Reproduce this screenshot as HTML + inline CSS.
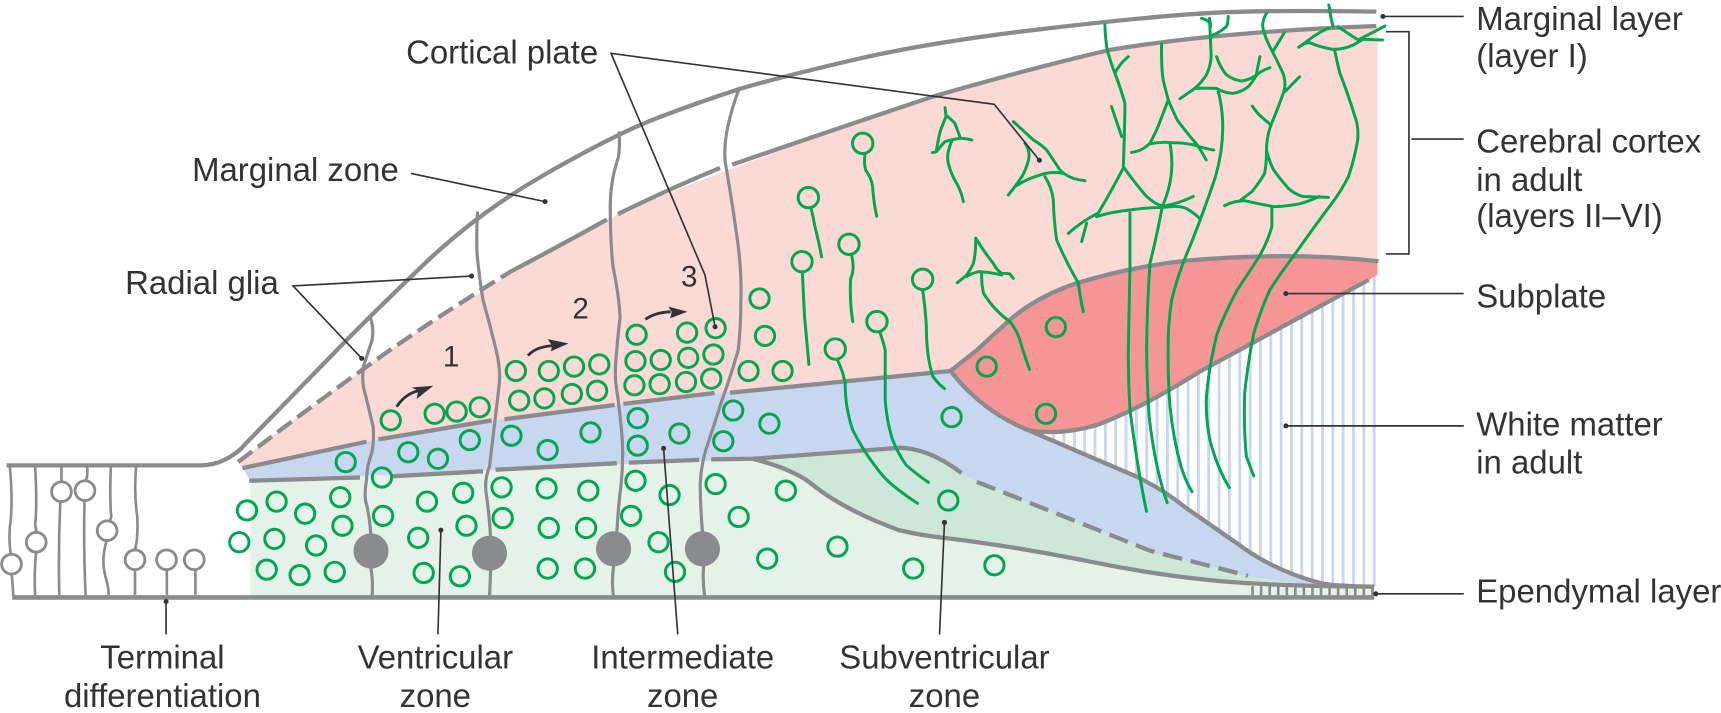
<!DOCTYPE html>
<html><head><meta charset="utf-8"><title>Cortical development</title>
<style>
html,body{margin:0;padding:0;background:#fff}
svg{display:block}
text{font-family:"Liberation Sans",sans-serif;font-size:30px;fill:#333}
.g{fill:none;stroke:#8a8b8d;stroke-width:3.9;stroke-linejoin:round}
.r{fill:none;stroke:#8a8b8d;stroke-width:2.9;stroke-linecap:round}
.t{fill:none;stroke:#8a8b8d;stroke-width:2.4}
.s{fill:#fff;stroke:#8a8b8d;stroke-width:2.6}
.c circle{fill:none;stroke:#00a651;stroke-width:2.7}
.n path{fill:none;stroke:#00a651;stroke-width:2.7;stroke-linecap:round;stroke-linejoin:round}
.l{fill:none;stroke:#333;stroke-width:1.5}
.d circle{fill:#333}
</style></head><body>
<svg width="1721" height="713" viewBox="0 0 1568 649.6" xmlns="http://www.w3.org/2000/svg">
<!-- white matter stripes -->
<path d="M958.7 392H1253.5" stroke="#c6d7ef" stroke-width="284" stroke-dasharray="2.6 6.82" fill="none"/>
<!-- fills -->
<path fill="#e4f2e7" d="M228 438L686 418Q725 428 742 443Q770 465 819 483Q840 488 860 490Q920 497 1000 513Q1050 523 1097 528Q1150 534 1252 534.5V545H228Z"/>
<path fill="#cde8d8" d="M686 418L819 408Q846 408 876 431L890 439L1047.7 501.7L1137 525.4L1204 534Q1150 534 1097 528Q1050 523 1000 513Q920 497 860 490Q840 488 819 483Q770 465 742 443Q725 428 686 418Z"/>
<path fill="#c6d7ef" d="M221 426L345 400L448 383L546.7 370.5L651 358L866 338Q895 375 937 392L1035 434Q1060 446 1081 463L1127 495Q1160 520 1204 531.5L1220 534L1204 534L1137 525.4L1047.7 501.7L890 439L876 431Q846 408 819 408L686 418L228 438Z"/>
<path fill="#fbd9d5" d="M217 421Q290 365 358 317Q460 250 553 200Q640 160 850 88Q940 62 1011 45.5Q1110 29 1255 24V238Q1174 229 1081 237.5Q1030 243 981 258Q945 270 920 291.5L866 338L651 358L546.7 370.5L448 383L345 400L221 426Z"/>
<path fill="#f59597" d="M866 338L890 319Q905 305 920 291.5Q945 270 981 258Q1030 243 1081 237.5Q1174 229 1255 238V250.5L1247 255L1093 338.6Q1040 372 1000 387Q965 397 937 392Q895 375 866 338Z"/>
<!-- structural lines -->
<path class="g" d="M6 424H182Q199 424 213 414Q219 410 223 405L304 322Q337 288 386 241Q435 194 498 158Q562 121.5 600 107Q638 92.6 674 81Q711 70 780 54Q850 38 949 26.5Q1047 15 1100 12Q1147 9 1254 10.6"/>
<path class="g" stroke-dasharray="16 6.5" d="M217 421Q290 365 358 317Q412 280 466 247"/>
<path class="g" d="M466 247Q510 224 553 200M563 195Q610 172 656 153M667 150Q760 118 850 88Q940 62 1011 45.5Q1110 29 1254 23.7"/>
<path class="g" d="M221 426.5L334 402.4M344.7 400.3L448 383M459.6 382L560 369M568 368L651 358M665 357.8L866 338"/>
<path class="g" d="M227 438L328 435M356 434L440 429.4M451.5 428L562 422M573 421.5L637 419M648 418.5L686 418L819 408Q846 408 876 431"/>
<path class="g" stroke-dasharray="18 8" d="M890 439L1047.7 501.7L1137 524.5"/>
<path class="g" d="M686 418Q725 428 742 443Q770 465 819 483Q840 488 860 490Q920 497 1000 513Q1050 523 1097 528Q1150 534 1252 534.5"/>
<path class="g" d="M866 338L890 319Q905 305 920 291.5Q945 270 981 258Q1030 243 1081 237.5Q1174 229 1256 238"/>
<path class="g" d="M866 338Q895 375 937 392Q965 397 1000 387Q1040 372 1093 338.6L1247 255"/>
<path class="g" d="M937 392L1035 434Q1060 446 1081 463L1127 495Q1160 520 1204 531.5Q1215 534 1252 534.5"/>
<path class="g" d="M11 544.3H1252" style="stroke-width:4.2"/>
<path d="M1140 539.5H1252" stroke="#8a8b8d" stroke-width="11" stroke-dasharray="2.4 5.4" fill="none"/>
<!-- radial glia -->
<path class="r" d="M337 288.5Q341 298 339 310Q335 322 331 334Q330 343 331 352Q336 372 340 389Q341 402 338.6 413Q334 425 334 437Q332 447 333 456Q337 470 338 490M338 518Q340 530 339 544"/>
<path class="r" d="M435 194Q434 215 434.6 231Q437 255 440 273Q447 298 452 319Q456 335 455 349Q450 390 446 425Q441 438 443 450Q446 470 447 490M447 521L446 544"/>
<path class="r" d="M564 121Q565 130 563.5 143Q556 165 556 188Q556 220 558.5 243Q564 270 565 289Q563 305 562 319Q560 335 561 349Q565 375 567 401Q568 420 566 440Q563 465 562 485M559 516Q557 530 559 544"/>
<path class="r" d="M673 82Q666 100 662 121Q659 140 661.5 152Q668 190 671 213Q676 245 675 273Q675 298 672.6 319Q666 342 658 364Q652 383 646 401Q639 420 638 440Q638 460 640 485M641 516Q640 528 642 543"/>
<circle cx="338" cy="502" r="16" fill="#8a8b8d"/><circle cx="446" cy="504" r="16" fill="#8a8b8d"/><circle cx="559" cy="500" r="16" fill="#8a8b8d"/><circle cx="640" cy="500" r="16" fill="#8a8b8d"/>
<!-- terminal differentiation -->
<path class="t" d="M9 425Q12 460 9 480Q8 495 10 505M10.5 523Q12 535 12 543M32 425Q34 460 32 478Q33 482 33 485M33 503Q31 520 32 543M56 425V439M55 457Q53 500 54 542M79.5 425Q80 435 78 438M77 456Q76 500 78 542M101 425Q100 450 101 467Q102 472 100 474M97 493Q92 510 96 525Q99 535 99 542M124 425Q122 450 125 470Q126 490 123 501M123 519V542M152 519V542M178 519V542"/>
<circle class="s" cx="10.5" cy="514" r="9"/><circle class="s" cx="33" cy="494" r="9"/><circle class="s" cx="56" cy="448" r="9"/><circle class="s" cx="77.4" cy="447" r="9"/><circle class="s" cx="97.6" cy="483.5" r="9"/><circle class="s" cx="123" cy="510" r="9"/><circle class="s" cx="151.7" cy="510" r="9"/><circle class="s" cx="177" cy="510" r="9"/>
<!-- green cells -->
<g class="c">
<circle cx="356" cy="383" r="8.8"/><circle cx="396" cy="377" r="8.8"/><circle cx="416" cy="375" r="8.8"/><circle cx="437" cy="371" r="8.8"/>
<circle cx="470" cy="338" r="8.8"/><circle cx="500" cy="338" r="8.8"/><circle cx="523" cy="334" r="8.8"/><circle cx="546" cy="332" r="8.8"/>
<circle cx="473" cy="365" r="8.8"/><circle cx="496" cy="363" r="8.8"/><circle cx="521" cy="359" r="8.8"/><circle cx="544" cy="356" r="8.8"/>
<circle cx="580" cy="305" r="8.8"/><circle cx="626" cy="303" r="8.8"/><circle cx="652" cy="299" r="8.8"/>
<circle cx="579" cy="329" r="8.8"/><circle cx="602" cy="328" r="8.8"/><circle cx="627" cy="326" r="8.8"/><circle cx="650" cy="323" r="8.8"/>
<circle cx="578" cy="351" r="8.8"/><circle cx="601" cy="350" r="8.8"/><circle cx="625" cy="348" r="8.8"/><circle cx="648" cy="345" r="8.8"/>
<circle cx="692" cy="272" r="8.8"/><circle cx="697" cy="306" r="8.8"/><circle cx="682" cy="338" r="8.8"/><circle cx="713" cy="338" r="8.8"/>
<circle cx="315" cy="421" r="8.8"/><circle cx="372" cy="412" r="8.8"/><circle cx="399" cy="418" r="8.8"/><circle cx="428" cy="401" r="8.8"/><circle cx="466" cy="397" r="8.8"/><circle cx="499" cy="410" r="8.8"/><circle cx="538" cy="394" r="8.8"/><circle cx="581" cy="381" r="8.8"/><circle cx="581" cy="406" r="8.8"/><circle cx="619" cy="395" r="8.8"/><circle cx="668" cy="374" r="8.8"/><circle cx="659" cy="402" r="8.8"/><circle cx="701" cy="386" r="8.8"/><circle cx="867" cy="380" r="8.8"/>
<circle cx="348" cy="435" r="8.8"/><circle cx="225" cy="465" r="8.8"/><circle cx="252" cy="457" r="8.8"/><circle cx="278" cy="468" r="8.8"/><circle cx="310" cy="453" r="8.8"/><circle cx="312" cy="479" r="8.8"/><circle cx="218" cy="494" r="8.8"/><circle cx="250" cy="491" r="8.8"/><circle cx="288" cy="497" r="8.8"/><circle cx="243" cy="519" r="8.8"/><circle cx="273" cy="524" r="8.8"/><circle cx="305" cy="521" r="8.8"/>
<circle cx="349" cy="470" r="8.8"/><circle cx="389" cy="457" r="8.8"/><circle cx="422" cy="449" r="8.8"/><circle cx="425" cy="479" r="8.8"/><circle cx="381" cy="490" r="8.8"/><circle cx="386" cy="522" r="8.8"/><circle cx="419" cy="525" r="8.8"/><circle cx="457" cy="444" r="8.8"/><circle cx="458" cy="472" r="8.8"/><circle cx="498" cy="445" r="8.8"/><circle cx="500" cy="481" r="8.8"/><circle cx="499" cy="518" r="8.8"/><circle cx="533" cy="518" r="8.8"/><circle cx="534" cy="481" r="8.8"/><circle cx="536" cy="447" r="8.8"/>
<circle cx="579" cy="438" r="8.8"/><circle cx="575" cy="470" r="8.8"/><circle cx="610" cy="451" r="8.8"/><circle cx="652" cy="441" r="8.8"/><circle cx="673" cy="471" r="8.8"/><circle cx="716" cy="447" r="8.8"/><circle cx="600" cy="494" r="8.8"/><circle cx="615" cy="521" r="8.8"/><circle cx="699" cy="509" r="8.8"/><circle cx="763" cy="498" r="8.8"/><circle cx="832" cy="518" r="8.8"/><circle cx="906" cy="515" r="8.8"/><circle cx="864" cy="456" r="8.8"/>
<circle cx="899" cy="334" r="8.8"/><circle cx="953" cy="377" r="8.8"/><circle cx="962" cy="298" r="8.8"/>
<circle cx="786" cy="130.6" r="9.3"/><circle cx="736.5" cy="180" r="9.3"/><circle cx="773.5" cy="222.6" r="9.3"/><circle cx="730.7" cy="238.4" r="9.3"/><circle cx="840.6" cy="254.5" r="9.3"/><circle cx="799" cy="293" r="9.3"/><circle cx="761" cy="318" r="9.3"/>
</g>
<!-- neurons -->
<g class="n">
<path d="M788 141Q787 148 788.7 155Q794 162 795 170Q796 185 798.8 197"/>
<path d="M739 190Q741 198 742.5 206.5Q746 220 748.6 234"/>
<path d="M776 233Q779 245 775 254Q774 275 777 293"/>
<path d="M731 248L733 288.5Q735 310 737 332"/>
<path d="M840.7 265Q843 280 844 297.6Q844 325 850 343Q855 350 860.5 354"/>
<path d="M801.8 303Q805 312 806.5 319V364.5Q808 385 813.4 401Q818 413 825.6 423.7Q835 432 846 439.5"/>
<path d="M763 328Q768 338 770 349Q770 372 777 392Q786 410 797.7 425Q806 437 818.7 446.4Q827 453 836 458.6"/>
<path d="M861 98L862 106Q857 118 856 122Q854 132 853 138Q852 139 849.5 139"/>
<path d="M862 105Q868 110 870 112.4Q873 120 875 126Q880 126 885.3 127.5"/>
<path d="M853.4 138Q858 132 861 129Q867 127 875 126"/>
<path d="M867 129Q862 140 864 149Q867 160 871.6 167Q876 175 877.7 183.7"/>
<path d="M923.3 110.8L941.5 127.5Q949 132 953.6 136.7Q960 146 965.8 155Q971 160 978 162.5Q983 164 988.5 164.6"/>
<path d="M933.9 130.6Q939 138 937 146Q935 154 931 161Q925 170 918.7 177.6"/>
<path d="M924.8 170Q935 163 950.6 158.5Q960 156 968.8 158"/>
<path d="M952 161Q958 170 959.7 182Q960 200 962.7 218.6Q971 238 982.5 258Q984 270 987 284"/>
<path d="M889 217Q889 232 886.8 240Q884 246 880.7 250.5Q877 254 872.2 257.5"/>
<path d="M889 217Q897 230 905 240Q908 246 912.6 249Q918 249 920 249.6L923.3 253.6"/>
<path d="M880.7 252Q885 249 891.4 247.5Q902 248 912.6 250.5"/>
<path d="M894.4 249Q894 258 896 267Q905 282 920 293Q926 300 929.3 310Q932 320 938 336.5"/>
<path d="M1006.7 22.8Q1007 35 1008.8 45.5Q1012 57 1015.8 66.8Q1021 80 1024.9 94Q1025 105 1023.5 152"/>
<path d="M1028 51.6Q1020 58 1015.8 66.8M1012.7 97Q1017 110 1022 124.5"/>
<path d="M1023.5 153Q1012 175 1000.7 194Q985 202 973.4 212.6M990 203.5L985.5 220"/>
<path d="M1023.5 152Q1035 168 1044.7 179Q1052 186 1060 188Q1075 185 1087.2 179"/>
<path d="M999 197.4Q1012 193 1029.5 191.3Q1045 189 1060 189Q1075 187 1081 190Q1088 194 1093 199"/>
<path d="M1029.5 194V243L1028 319Q1028 350 1029.6 373.6Q1036 425 1044.6 466"/>
<path d="M1058.3 40Q1058 62 1059.8 73Q1062 82 1064.4 91Q1058 108 1053.8 118.4Q1050 126 1047.8 130.6Q1040 138 1031 138.8"/>
<path d="M1064.4 91Q1068 100 1072.6 109.3Q1082 122 1090.8 132Q1096 140 1099 145.8"/>
<path d="M1047.7 131Q1058 129 1067.6 130Q1078 130 1087.5 132Q1096 135 1105.8 136.7"/>
<path d="M1066 130.6Q1068 142 1067.6 152Q1067 170 1059 188Q1054 215 1047.7 240Q1045 280 1044.7 319Q1045 350 1047 379.6Q1052 425 1063.4 458"/>
<path d="M1094.7 16.7Q1103 19 1103 24L1102 16.7L1103.5 51.6Q1103 60 1099.3 68Q1095 75 1088.6 80.5Q1082 85 1075 90"/>
<path d="M1119 15Q1119 20 1117.5 24Q1112 29 1105 32"/>
<path d="M1108.4 51.6Q1112 62 1117.5 68.3Q1124 73 1131 73.8Q1138 73 1144.8 68.3Q1150 64 1157 61.6M1147.9 51.6L1144.8 66.8"/>
<path d="M1088.6 80.5Q1098 80 1108.4 80.5Q1116 85 1123.6 85Q1131 84 1137.2 79Q1141 75 1144.8 68.3"/>
<path d="M1110 83.5Q1113 95 1113.9 109Q1115 135 1107.4 161Q1096 195 1084 224.7Q1073 250 1067.6 273Q1064 295 1064.3 319Q1064 345 1066 370.5Q1069 400 1076 425Q1080 438 1086 448"/>
<path d="M1154 12Q1149 20 1151 27Q1153 35 1157 42.5Q1163 54 1169 66.8Q1172 76 1169.7 83.5Q1165 97 1160 109Q1154 122 1153.9 136.7"/>
<path d="M1170 30L1160.6 45.5M1184 70L1170.7 83.5M1141 96.6Q1145 103 1151 108L1158 114"/>
<path d="M1153.9 136.7Q1154 148 1152.2 158Q1147 167 1140.6 174.6Q1136 178 1130.6 182"/>
<path d="M1153.9 136.7Q1156 146 1160.5 155Q1167 164 1173.8 171.6Q1180 177 1187 179L1210.3 179.8"/>
<path d="M1115.7 187.4Q1124 183 1134 182.8Q1148 186 1160.5 188.3Q1172 188 1183.7 185.8Q1194 183 1202 179"/>
<path d="M1158.8 188.3V206.5Q1155 220 1147.2 233.8Q1138 248 1127.3 264Q1116 285 1109 303.7Q1101 335 1099 364.5Q1099 390 1104 407Q1110 428 1120 444.3"/>
<path d="M1216 45.5Q1218 56 1220.8 66.8Q1228 85 1234.4 106Q1238 115 1237 127.5Q1234 145 1228.5 161Q1222 174 1213.6 185Q1197 207 1180.4 230.8Q1168 247 1157 264Q1148 284 1142.3 303.7Q1137 330 1134 358.4Q1133 390 1135.6 416L1142.3 433.7"/>
<path d="M1210.7 4.5L1213 18L1214.7 24.3M1210 25.8Q1203 29 1196.4 33.4L1183.4 43M1219 24.3L1237.4 36.4L1261.8 23.7"/>
<path d="M1183.4 43Q1188 39 1193.4 38.9Q1203 43 1214.7 45Q1224 45 1233 41Q1238 38 1242 35.8L1259.6 36.4"/>
</g>
<!-- migration arrows -->
<path d="M361.4 370.5Q369 359 381 356" fill="none" stroke="#333" stroke-width="2.6"/>
<path d="M394.8 351.4L375 353L381 356L379.6 363.5Z" fill="#333"/>
<path d="M481 324Q488 316 503 315" fill="none" stroke="#333" stroke-width="2.6"/>
<path d="M518 313L499 309L503 315L502 320Z" fill="#333"/>
<path d="M588 291Q596 285 611 284" fill="none" stroke="#333" stroke-width="2.6"/>
<path d="M626.3 284L609 279.4L612 284L610.6 290Z" fill="#333"/>
<!-- leaders -->
<g class="l">
<path d="M429.6 251.5L267 260.5L329.5 326.5"/>
<path d="M374.5 158L496.6 183.7"/>
<path d="M947 146L905.8 95L556.7 48.6L637.8 240L642.3 250.5L651.5 297.7"/>
<path d="M1260 15H1333.6"/>
<path d="M1262.7 28.9H1283.7V231.4H1262.7M1286 126.7H1333.6"/>
<path d="M1171.5 267.5H1333.6"/>
<path d="M1171.6 388H1333.6"/>
<path d="M1253.5 541H1333.6"/>
<path d="M151.3 548V578"/>
<path d="M401.7 483L399 578"/>
<path d="M604.6 408.5L617.5 578"/>
<path d="M860.5 476L856 578"/>
</g>
<g class="d">
<circle cx="429.6" cy="251.5" r="2.3"/><circle cx="329.5" cy="326.5" r="2.3"/><circle cx="496.6" cy="183.7" r="2.3"/><circle cx="947" cy="146" r="2.3"/><circle cx="651.5" cy="297.7" r="2.3"/><circle cx="1260" cy="15" r="2.3"/><circle cx="1171.5" cy="267.5" r="2.3"/><circle cx="1171.6" cy="388" r="2.3"/><circle cx="1253.5" cy="541" r="2.3"/><circle cx="151.3" cy="548" r="2.3"/><circle cx="401.7" cy="483" r="2.3"/><circle cx="604.6" cy="408.5" r="2.3"/><circle cx="860.5" cy="476" r="2.3"/>
</g>
<!-- labels -->
<text x="370" y="58">Cortical plate</text>
<text x="175" y="165">Marginal zone</text>
<text x="114" y="268">Radial glia</text>
<text x="1345" y="27.5">Marginal layer</text>
<text x="1345" y="61">(layer I)</text>
<text x="1345" y="139">Cerebral cortex</text>
<text x="1345" y="174">in adult</text>
<text x="1345" y="207">(layers II–VI)</text>
<text x="1345" y="280">Subplate</text>
<text x="1345" y="397">White matter</text>
<text x="1345" y="431.5">in adult</text>
<text x="1345" y="549">Ependymal layer</text>
<g text-anchor="middle">
<text x="148" y="609">Terminal</text>
<text x="148" y="644">differentiation</text>
<text x="396.6" y="609">Ventricular</text>
<text x="396.6" y="644">zone</text>
<text x="622" y="609">Intermediate</text>
<text x="622" y="644">zone</text>
<text x="860.5" y="609">Subventricular</text>
<text x="860.5" y="644">zone</text>
<text x="411" y="334" style="font-size:27px">1</text>
<text x="529" y="290" style="font-size:27px">2</text>
<text x="628" y="261" style="font-size:27px">3</text>
</g>
</svg>
</body></html>
